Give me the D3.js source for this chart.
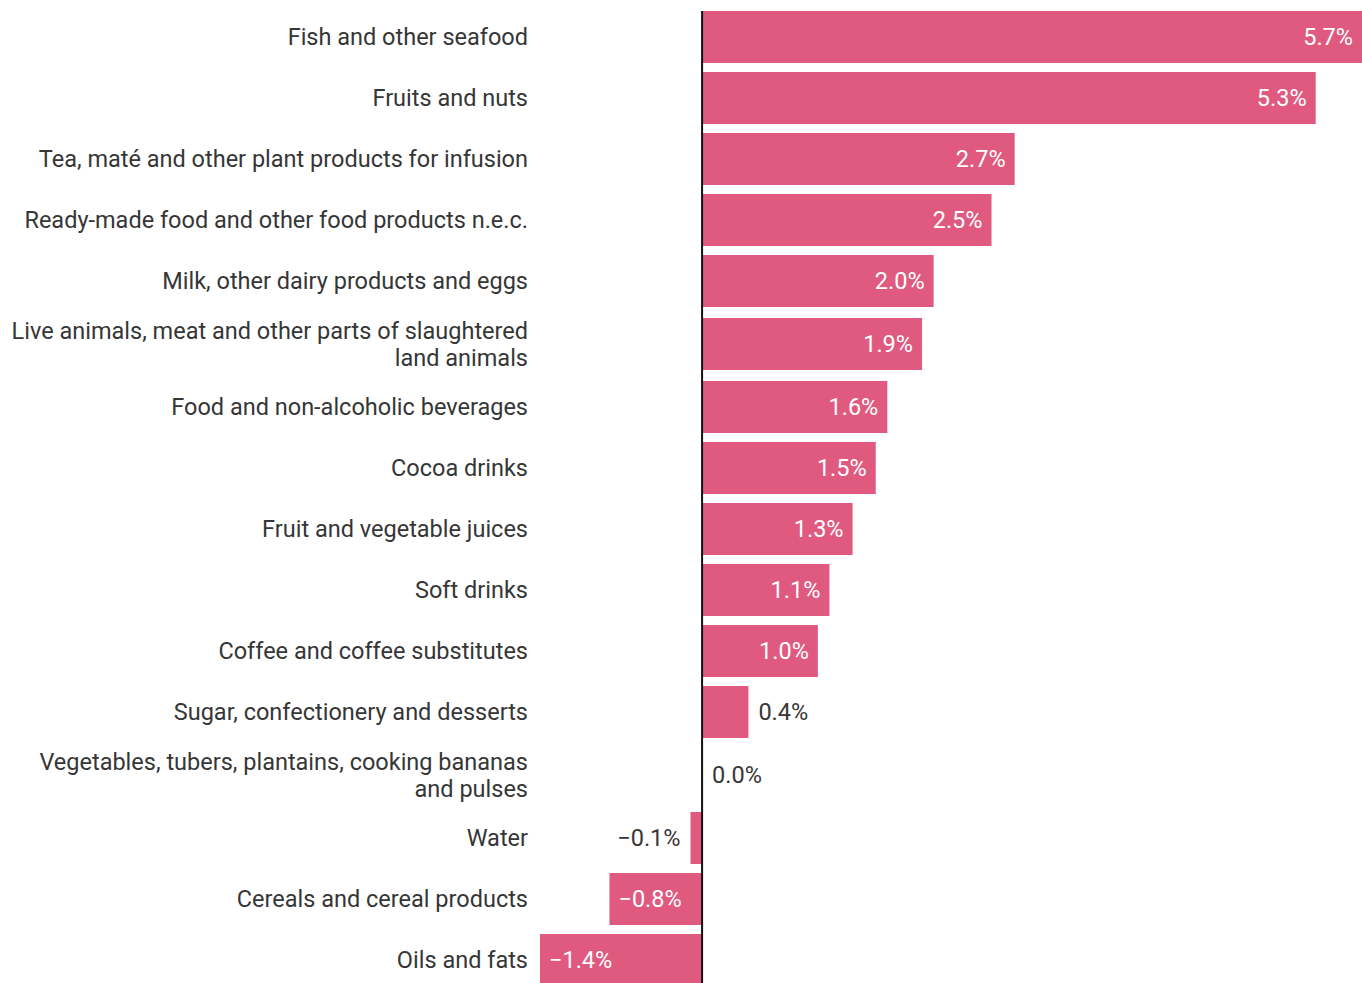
<!DOCTYPE html>
<html>
<head>
<meta charset="utf-8">
<script src="https://cdn.jsdelivr.net/npm/d3@7"></script>
<style>
  html, body { margin: 0; padding: 0; background: #fff; overflow: hidden; }
  svg { display: block; font-family: Roboto, "Noto Sans", sans-serif; }
</style>
</head>
<body>
<div id="chart"></div>
<script>
// categories, top to bottom (two-line labels split with |)
const categories = [
    "Fish and other seafood",
    "Fruits and nuts",
    "Tea, maté and other plant products for infusion",
    "Ready-made food and other food products n.e.c.",
    "Milk, other dairy products and eggs",
    "Live animals, meat and other parts of slaughtered|land animals",
    "Food and non-alcoholic beverages",
    "Cocoa drinks",
    "Fruit and vegetable juices",
    "Soft drinks",
    "Coffee and coffee substitutes",
    "Sugar, confectionery and desserts",
    "Vegetables, tubers, plantains, cooking bananas|and pulses",
    "Water",
    "Cereals and cereal products",
    "Oils and fats"
];
const values = [5.7, 5.3, 2.7, 2.5, 2.0, 1.9, 1.6, 1.5, 1.3, 1.1, 1.0, 0.4, 0.0, -0.1, -0.8, -1.4];

const W = 1362, H = 983;
const barColor = "#e05a80";
const textColor = "#363636";
const fontSize = "23.5px";

const svg = d3.select("#chart")
    .append("svg")
    .attr("width", W)
    .attr("height", H);

// scales
const x = d3.scaleLinear()
    .domain([-1.4, 5.7])
    .range([540, 1362]);

// rows with two-line labels are a little taller
const rowH = categories.map(c => c.includes("|") ? 65 : 61);
const top0 = 6.5;
const centers = rowH.map((h, i) => top0 + d3.sum(rowH.slice(0, i)) + h / 2);
const y = d3.scaleOrdinal()
    .domain(categories)
    .range(centers);
const barH = 52;

const fmt = v => d3.format(".1f")(v).replace("-", "\u2212") + "%";

// bars
svg.selectAll(".bar")
    .data(values)
    .enter()
    .append("rect")
    .attr("class", "bar")
    .attr("x", d => Math.min(x(0), x(d)))
    .attr("y", (d, i) => y(categories[i]) - barH / 2)
    .attr("width", d => Math.abs(x(d) - x(0)))
    .attr("height", barH)
    .attr("fill", barColor);

// zero line
svg.append("line")
    .attr("x1", x(0))
    .attr("x2", x(0))
    .attr("y1", y(categories[0]) - barH / 2)
    .attr("y2", H)
    .attr("stroke", "#111")
    .attr("stroke-width", 2);

// category labels
const labels = svg.selectAll(".cat")
    .data(categories)
    .enter()
    .append("text")
    .attr("class", "cat")
    .attr("text-anchor", "end")
    .attr("fill", textColor)
    .style("font-size", fontSize);

labels.each(function(d) {
    const lines = d.split("|");
    const cy = y(d);
    const lh = 27;
    const t = d3.select(this);
    lines.forEach((ln, k) => {
        t.append("tspan")
            .attr("x", 528)
            .attr("y", cy + (k - (lines.length - 1) / 2) * lh)
            .attr("dy", "0.35em")
            .text(ln);
    });
});

// value labels
const insideMin = 0.5;
svg.selectAll(".val")
    .data(values)
    .enter()
    .append("text")
    .attr("class", "val")
    .style("font-size", fontSize)
    .attr("y", (d, i) => y(categories[i]))
    .attr("dy", "0.35em")
    .each(function(d) {
        const t = d3.select(this);
        const inside = Math.abs(d) >= insideMin;
        if (d >= 0) {
            if (inside) {
                t.attr("x", x(d) - 9).attr("text-anchor", "end").attr("fill", "#fff");
            } else {
                t.attr("x", x(d) + 10).attr("text-anchor", "start").attr("fill", textColor);
            }
        } else {
            if (inside) {
                t.attr("x", x(d) + 9).attr("text-anchor", "start").attr("fill", "#fff");
            } else {
                t.attr("x", x(d) - 10).attr("text-anchor", "end").attr("fill", textColor);
            }
        }
    })
    .text(d => fmt(d));
</script>
</body>
</html>
